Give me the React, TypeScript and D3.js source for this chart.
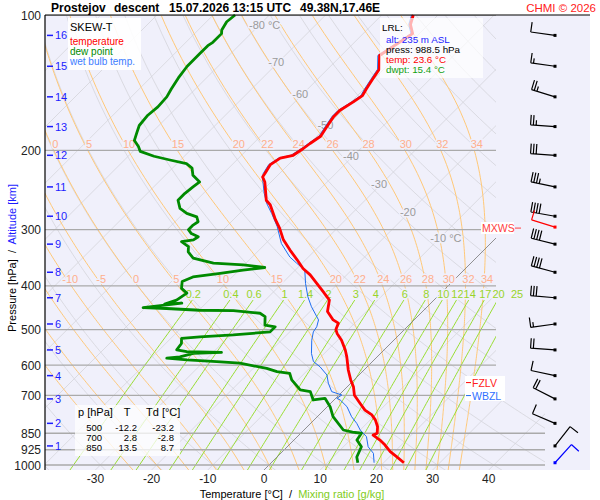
import React from "react";
import * as d3 from "d3";

// sounding: pressure [hPa] / temperature [°C]
const tempP = [988.5, 958, 934, 903, 880, 858, 850, 822, 794, 774, 755, 729, 700, 670, 647, 615, 575, 555, 528, 510, 500, 484, 476, 456, 430, 412, 395, 378, 366, 350, 333, 316, 298, 285, 264, 258, 235, 229, 225, 215, 208, 205, 198, 193, 186, 177, 168, 163, 156, 151, 146, 139, 132, 123, 110, 105, 100];
const tempT = [23.6, 21.2, 19.2, 17.1, 15.3, 13.2, 13.6, 12.5, 10.9, 9.4, 7.3, 5.2, 2.8, 1.1, -0.6, -2.8, -5.4, -6.9, -9.3, -11.3, -12.2, -12.9, -14.4, -16.9, -18.6, -21.2, -23.8, -26.5, -28.9, -31.5, -34.5, -37.5, -40.2, -42.5, -46.1, -47.6, -51.1, -52.4, -52.6, -53.2, -52.6, -50.8, -50.2, -49.9, -49.3, -49.9, -50.5, -50.5, -49.6, -49.1, -49.6, -50.2, -50.8, -53.2, -51.2, -53.2, -54.4];

const dewP = [988.5, 960, 911, 880, 850, 845, 836, 781, 742, 711, 717, 687, 681, 647, 626, 620, 610, 594, 589, 584, 579, 575, 565, 562, 560, 555, 537, 523, 519, 514, 506, 493, 489, 468, 460, 454, 453, 449, 447, 437, 439, 430, 415, 405, 391, 382, 375, 369, 364, 359, 356, 347, 336, 327, 319, 316, 311, 306, 300, 293, 288, 281, 276, 269, 258, 249, 241, 235, 227, 219, 214, 210, 206, 201, 196, 190, 183, 176, 167, 160, 152, 146, 138, 130, 122, 117, 115, 110, 108, 103.5, 100];
const dewT = [15.4, 14.2, 13.2, 11.2, 10.8, 9.0, 7.0, 2.8, 0.5, -1.9, -3.7, -5.7, -7.8, -11.1, -12.6, -15.2, -17.6, -23.3, -27.7, -33.3, -37.2, -35.1, -33.3, -28.5, -34.8, -36.9, -37.2, -38.1, -35.1, -29.5, -23.5, -23.5, -25.6, -27.1, -28.6, -33.8, -39.9, -46.1, -50.4, -44.3, -47.2, -45.8, -45.2, -47.0, -48.1, -47.0, -42.8, -39.3, -35.9, -40.2, -45.8, -50.3, -52.3, -53.2, -55.3, -53.5, -53.2, -55.0, -56.2, -56.2, -55.9, -57.0, -59.4, -61.5, -63.3, -63.3, -63.0, -62.7, -65.1, -66.5, -68.3, -71.9, -75.4, -78.7, -79.9, -81.7, -82.6, -83.5, -83.8, -83.5, -83.7, -84.3, -85.0, -85.5, -85.5, -85.5, -85.2, -85.2, -85.8, -86.4, -86.1];

const wetP = [988.5, 942, 911, 865, 836, 808, 781, 742, 717, 711, 699, 687, 658, 631, 605, 589, 565, 528, 506, 493, 476, 445, 423, 395, 369, 356, 345, 322, 295, 276, 262, 249, 231, 225, 215, 208, 205, 198, 193, 186, 177, 168, 163, 156, 151, 146, 139, 132, 123, 110, 105, 100];
const wetT = [18.3, 16.5, 14.4, 12.3, 10.0, 8.2, 6.1, 3.5, 1.1, 0.2, 0.5, -1.9, -4.0, -5.7, -8.4, -10.5, -12.3, -14.6, -15.8, -16.1, -17.0, -20.6, -23.0, -25.8, -28.3, -31.0, -33.3, -37.2, -41.0, -44.3, -47.0, -49.2, -52.1, -52.9, -53.5, -52.9, -51.2, -50.5, -50.2, -49.6, -50.2, -50.8, -50.8, -49.9, -49.4, -49.9, -50.5, -51.1, -53.5, -51.5, -53.5, -54.7];

// winds (surface, then 1..16 km)
const windP = [988.5, 907, 808, 713, 633, 555, 486, 425, 373, 323, 280, 241, 205, 177, 152, 130, 111];
const windDir = [42, 38, 293, 297, 282, 274, 262, 275, 285, 284, 280, 282, 274, 274, 287, 278, 278];
const windSpd = [10, 10, 10, 20, 10, 20, 15, 30, 40, 40, 40, 35, 30, 25, 25, 15, 10];
const mxwsP = 296, mxwsDir = 287, mxwsSpd = 10;

const pressureTicks = [100, 200, 300, 400, 500, 600, 700, 850, 925, 1000];
const tempTicks = [-30, -20, -10, 0, 10, 20, 30, 40];
const altKm = [1, 2, 3, 4, 5, 6, 7, 8, 9, 10, 11, 12, 13, 14, 15, 16];
const altP = [907, 808, 713, 633, 555, 486, 425, 373, 323, 280, 241, 205, 177, 152, 130, 111];

const mixRatios = [0.2, 0.4, 0.6, 1, 1.4, 2, 3, 4, 6, 8, 10, 12, 14, 17, 20, 25];
const thetaW = [-25, -20, -15, -10, -5, 0, 5, 10, 15, 20, 22, 24, 26, 28, 30, 32, 34];
const thetaWTop = [0, 5, 10, 15, 20, 22, 24, 26, 28, 30, 32, 34];
const thetaWMid = [-10, -5, 0, 5, 10, 15, 20, 22, 24, 26, 28, 30, 32, 34];
const isoLabT = [-10, -20, -30, -40, -50, -60, -70, -80];
const isoLabP = [314, 275, 239, 207, 177, 151, 128, 106];

const tableP = [500, 700, 850];
const tableT = [-12.2, 2.8, 13.5];
const tableTd = [-23.2, -2.8, 8.7];

const fzlvP = 656, wbzlP = 701;

const FONT = "'Liberation Sans', Arial, sans-serif";
const BG = "#f0f0fb";

const y = d3.scaleLog().domain([100, 1000]).range([15, 465]);
const tx = d3.scaleLinear().domain([0, 10]).range([264, 320.2]);
const X = (T: number, p: number) => tx(T) + (470 - y(p));

type PT = [number, number];
const line = d3
  .line<PT>()
  .x((d) => X(d[1], d[0]))
  .y((d) => y(d[0]));
const zip = (ps: number[], ts: number[]): PT[] => ps.map((p, i) => [p, ts[i]]);

const gridP = d3.range(1030, 99, -10);

function moistLapse(T: number, p: number) {
  const tc = T - 273.15;
  const es = 6.112 * Math.exp((17.67 * tc) / (tc + 243.5));
  const rs = (0.622 * es) / (p - es);
  return (287.04 * T + 2.501e6 * rs) / (p * (1005.7 + (2.501e6 * 2.501e6 * rs * 0.622) / (287.04 * T * T)));
}

function moistAdiabat(tw: number): PT[] {
  let T = tw + 273.15;
  let p = 1000;
  const pts: PT[] = [[1030, tw + moistLapse(T, p) * 30]];
  pts.push([p, tw]);
  const dp = -5;
  while (p > 100) {
    const k1 = moistLapse(T, p);
    const k2 = moistLapse(T + k1 * dp, p + dp);
    T += 0.5 * (k1 + k2) * dp;
    p += dp;
    pts.push([p, T - 273.15]);
  }
  return pts;
}

const dryAdiabat = (th: number): PT[] => gridP.map((p) => [p, (th + 273.15) * Math.pow(p / 1000, 0.2857) - 273.15]);

function mixLine(w: number): PT[] {
  return d3.range(1030, 429, -10).map((p) => {
    const e = (w * p) / (622 + w);
    const l = Math.log(e / 6.112);
    return [p, (243.5 * l) / (17.67 - l)] as PT;
  });
}

function tempAt(pts: PT[], p: number) {
  for (let i = 0; i < pts.length - 1; i++) {
    if (pts[i][0] >= p && pts[i + 1][0] <= p) {
      const f = (pts[i][0] - p) / (pts[i][0] - pts[i + 1][0]);
      return pts[i][1] + f * (pts[i + 1][1] - pts[i][1]);
    }
  }
  return pts[pts.length - 1][1];
}

function barbPath(cx: number, cy: number, dir: number, spd: number) {
  const a = (dir * Math.PI) / 180;
  const ux = Math.sin(a), uy = -Math.cos(a);
  const bx = -uy, by = ux;
  const ex = cx + ux * 24.5, ey = cy + uy * 24.5;
  let d = `M${cx},${cy}L${ex},${ey}`;
  let rest = spd, pos = 0;
  while (rest >= 10) {
    d += `M${ex - ux * pos},${ey - uy * pos}l${bx * 10},${by * 10}`;
    pos += 2.8;
    rest -= 10;
  }
  if (rest >= 5) d += `M${ex - ux * pos},${ey - uy * pos}l${bx * 5},${by * 5}`;
  return d;
}

export default function App() {
  const moist = thetaW.map((tw) => moistAdiabat(tw));
  const moistOf = (tw: number) => moist[thetaW.indexOf(tw)];
  const halo = { stroke: BG, strokeWidth: 3, paintOrder: "stroke" as const };
  const BX = 555;

  return (
    <div style={{ position: "absolute", left: 0, top: 0 }}>
      <svg width={600} height={500} style={{ display: "block", background: "#fff", fontFamily: FONT }}>
        <defs>
          <clipPath id="plot">
            <path d="M45,15L496,15L496,400L545,400L545,470L45,470Z" />
          </clipPath>
        </defs>
        <rect x={45} y={15} width={545} height={455} fill={BG} />

        <g clipPath="url(#plot)" fill="none">
          {d3.range(-130, 41, 10).filter((t) => t !== 0).map((t) => (
            <path key={"iso" + t} d={line([[1030, t], [100, t]]) || ""} stroke="#d4d4da" strokeWidth={0.8} />
          ))}
          {d3.range(-40, 201, 10).map((th) => (
            <path key={"dry" + th} d={line(dryAdiabat(th)) || ""} stroke="#d4d4da" strokeWidth={0.8} />
          ))}
          {moist.map((pts, i) => (
            <path key={"ma" + i} d={line(pts) || ""} stroke="#ffc878" strokeWidth={1} />
          ))}
          {mixRatios.map((w) => (
            <path key={"mr" + w} d={line(mixLine(w)) || ""} stroke="#99dd33" strokeWidth={1} />
          ))}
          <path d={line([[1030, 0], [100, 0]]) || ""} stroke="#777" strokeWidth={0.8} />
          {pressureTicks.map((p) => (
            <line key={"pl" + p} x1={45} x2={p >= 850 ? 545 : 496} y1={y(p)} y2={y(p)} stroke="#aaa" strokeWidth={1.3} />
          ))}
        </g>

        {/* grid labels */}
        <g fontSize={11} textAnchor="middle" dominantBaseline="middle">
          {thetaWTop.map((tw) => (
            <text key={"lt" + tw} x={X(tempAt(moistOf(tw), 194.5), 194.5) + 4} y={145} fill="#ffaf8c" {...halo}>
              {tw}
            </text>
          ))}
          {thetaWMid.map((tw) => (
            <text key={"lm" + tw} x={X(tempAt(moistOf(tw), 388), 388) + 3} y={280} fill="#ffaf8c" {...halo}>
              {tw}
            </text>
          ))}
          {mixRatios.map((w) => (
            <text key={"lw" + w} x={X(mixLine(w)[mixLine(w).length - 1][1], 430) + 1} y={295} fill="#99d42a" {...halo}>
              {w}
            </text>
          ))}
        </g>
        <g fontSize={11} fill="#9a9a9a" dominantBaseline="middle">
          {isoLabT.map((t, i) => (
            <text key={"il" + t} x={X(t, isoLabP[i]) - 9} y={y(isoLabP[i])} {...halo}>
              {t}
              {t === -10 || t === -80 ? " °C" : ""}
            </text>
          ))}
        </g>

        {/* profiles */}
        <path d={line(zip(wetP, wetT)) || ""} fill="none" stroke="#1e6ef0" strokeWidth={1} />
        <path d={line(zip(dewP, dewT)) || ""} fill="none" stroke="#008a00" strokeWidth={2.8} strokeLinejoin="round" />
        <path d={line(zip(tempP, tempT)) || ""} fill="none" stroke="#ff0000" strokeWidth={2.8} strokeLinejoin="round" />

        {/* frame */}
        <line x1={45} x2={590} y1={15} y2={15} stroke="#000" strokeWidth={1.2} />
        <line x1={45} x2={45} y1={15} y2={470} stroke="#000" strokeWidth={1.2} />

        {/* pressure and altitude axis */}
        <g fontSize={12} fill="#222" textAnchor="end">
          {pressureTicks.map((p) => (
            <text key={"pt" + p} x={41} y={y(p) + 4.5}>
              {p}
            </text>
          ))}
        </g>
        <g fontSize={11} fill="#1c1cff">
          {altKm.map((k, i) => (
            <g key={"alt" + k}>
              <line x1={47} x2={53} y1={y(altP[i])} y2={y(altP[i])} stroke="#1c1cff" strokeWidth={1.5} />
              <text x={55} y={y(altP[i]) + 4}>{k}</text>
            </g>
          ))}
        </g>
        <g fontSize={12} fill="#222" textAnchor="middle">
          {tempTicks.map((t) => (
            <text key={"tt" + t} x={tx(t)} y={483}>
              {t}
            </text>
          ))}
        </g>
        <text x={292} y={498} fontSize={11} textAnchor="middle" style={{ whiteSpace: "pre" }}>
          <tspan fill="#000">Temperature [°C]  /  </tspan>
          <tspan fill="#7fcc22">Mixing ratio [g/kg]</tspan>
        </text>
        <text transform="translate(16,258) rotate(-90)" fontSize={11} textAnchor="middle" style={{ whiteSpace: "pre" }}>
          <tspan fill="#000">Pressure [hPa]  /  </tspan>
          <tspan fill="#1c1cff">Altitude [km]</tspan>
        </text>

        {/* title */}
        <g fontSize={12} fontWeight="bold" fill="#000">
          <text x={51} y={12}>Prostejov</text>
          <text x={114} y={12}>descent</text>
          <text x={169} y={12}>15.07.2026 13:15 UTC</text>
          <text x={300} y={12}>49.38N,17.46E</text>
        </g>
        <text x={596} y={12} fontSize={11.5} fill="#ff2020" textAnchor="end">
          CHMI © 2026
        </text>

        {/* legend */}
        <rect x={68} y={18} width={73} height={52} fill="#fff" opacity={0.9} />
        <text x={70} y={31} fontSize={11} fill="#000">SKEW-T</text>
        <text x={70} y={45} fontSize={10} fill="#ff0000">temperature</text>
        <text x={70} y={55} fontSize={10} fill="#008a00">dew point</text>
        <text x={70} y={65} fontSize={10} fill="#3c7cff">wet bulb temp.</text>

        {/* LRL box */}
        <rect x={380} y={18} width={103} height={60} fill="#fff" opacity={0.7} />
        <g fontSize={9.8}>
          <text x={382} y={31} fill="#000">LRL:</text>
          <text x={386} y={43} fill="#1c1cff">alt: 235 m ASL</text>
          <text x={386} y={53} fill="#000">press: 988.5 hPa</text>
          <text x={386} y={63} fill="#ff0000">temp: 23.6 °C</text>
          <text x={386} y={73} fill="#10a010">dwpt: 15.4 °C</text>
        </g>

        {/* table */}
        <rect x={75} y={405} width={105} height={51} fill="#fff" opacity={0.75} />
        <g fontSize={11} fill="#000">
          <text x={78} y={416}>p [hPa]</text>
          <text x={127} y={416} textAnchor="middle">T</text>
          <text x={146} y={416}>Td [°C]</text>
        </g>
        <g fontSize={9.5} fill="#000" textAnchor="end">
          {tableP.map((p, i) => (
            <g key={"tr" + p}>
              <text x={102} y={431 + i * 10}>{p}</text>
              <text x={137} y={431 + i * 10}>{tableT[i].toFixed(1)}</text>
              <text x={174} y={431 + i * 10}>{tableTd[i].toFixed(1)}</text>
            </g>
          ))}
        </g>

        {/* freezing level markers */}
        <rect x={465} y={376} width={40} height={25} fill="#fff" />
        <line x1={466} x2={471} y1={y(fzlvP)} y2={y(fzlvP)} stroke="#ff0000" />
        <text x={472} y={y(fzlvP) + 4} fontSize={10.5} fill="#ff2020">FZLV</text>
        <line x1={466} x2={471} y1={y(wbzlP)} y2={y(wbzlP)} stroke="#1e6ef0" />
        <text x={472} y={y(wbzlP) + 4} fontSize={10.5} fill="#3070ff">WBZL</text>

        {/* max wind */}
        <rect x={481} y={222} width={33} height={12} fill="#fff" />
        <text x={482} y={232} fontSize={10.5} fill="#ff4040">MXWS</text>
        <line x1={515} x2={521} y1={y(mxwsP) + 1} y2={y(mxwsP) + 1} stroke="#ff4040" />

        {/* wind barbs */}
        <g fill="none" strokeWidth={1.2}>
          {windP.map((p, i) => {
            const col = i === 0 ? "#0000ff" : "#000";
            return (
              <g key={"wb" + i}>
                <path d={barbPath(BX, y(p), windDir[i], windSpd[i])} stroke={col} />
                <rect x={BX - 1.5} y={y(p) - 1.5} width={3} height={3} fill={col} />
              </g>
            );
          })}
          <path d={barbPath(BX, y(mxwsP), mxwsDir, mxwsSpd)} stroke="#ff0000" />
          <rect x={BX - 1.5} y={y(mxwsP) - 1.5} width={3} height={3} fill="#ff0000" />
        </g>
      </svg>
    </div>
  );
}
